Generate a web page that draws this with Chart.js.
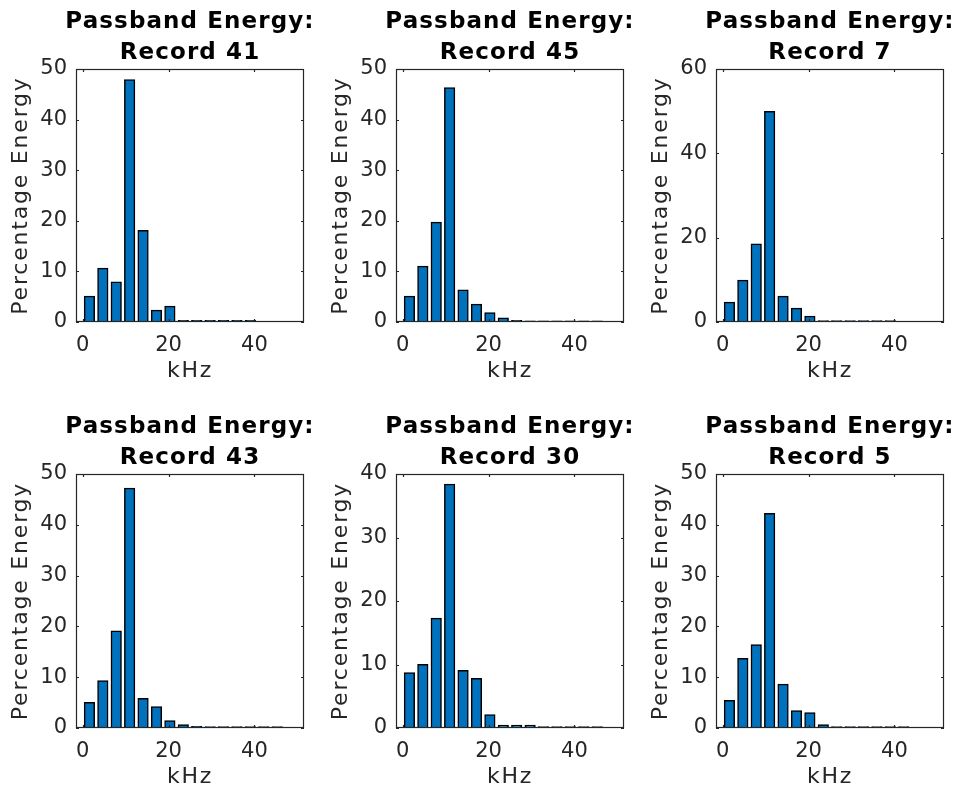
<!DOCTYPE html>
<html>
<head>
<meta charset="utf-8">
<script src="https://cdn.jsdelivr.net/npm/chart.js@4.4.0/dist/chart.umd.min.js"></script>
<style>
  html, body { margin: 0; padding: 0; background: #fff; overflow: hidden; width: 956px; height: 792px; }
  .cell { position: absolute; }
  .cell canvas { display: block; }
</style>
</head>
<body>
<div class="cell" style="left:0px;top:0px"><canvas id="c0" width="380" height="396"></canvas></div>
<div class="cell" style="left:320px;top:0px"><canvas id="c1" width="380" height="396"></canvas></div>
<div class="cell" style="left:640px;top:0px"><canvas id="c2" width="380" height="396"></canvas></div>
<div class="cell" style="left:0px;top:405px"><canvas id="c3" width="380" height="397"></canvas></div>
<div class="cell" style="left:320px;top:405px"><canvas id="c4" width="380" height="397"></canvas></div>
<div class="cell" style="left:640px;top:405px"><canvas id="c5" width="380" height="397"></canvas></div>
<script>
// band centres (kHz), 16 bands of 3.125 kHz
const bandCenters = [1.5625, 4.6875, 7.8125, 10.9375, 14.0625, 17.1875, 20.3125, 23.4375,
                     26.5625, 29.6875, 32.8125, 35.9375, 39.0625, 42.1875, 45.3125, 48.4375];
const xTickValues = [0, 20, 40];

const recordNames = ["Record 41", "Record 45", "Record 7", "Record 43", "Record 30", "Record 5"];

// percentage energy per band
const record41 = [5.1, 10.6, 7.9, 47.9, 18.1, 2.3, 3.1, 0.3, 0.3, 0.3, 0.3, 0.3, 0.3, 0, 0, 0];
const record45 = [5.1, 11.0, 19.7, 46.3, 6.3, 3.5, 1.85, 0.8, 0.3, 0.2, 0.2, 0.2, 0.2, 0.2, 0.2, 0];
const record7  = [4.7, 9.9, 18.5, 49.9, 6.1, 3.25, 1.35, 0.3, 0.3, 0.3, 0.3, 0.3, 0.3, 0, 0, 0];
const record43 = [5.0, 9.3, 19.1, 47.2, 5.8, 4.2, 1.45, 0.66, 0.3, 0.25, 0.25, 0.25, 0.25, 0.25, 0.25, 0];
const record30 = [8.7, 10.0, 17.3, 38.4, 9.05, 7.8, 2.1, 0.42, 0.42, 0.42, 0.2, 0.2, 0.2, 0.2, 0.2, 0];
const record5  = [5.4, 13.7, 16.4, 42.2, 8.6, 3.4, 3.0, 0.66, 0.26, 0.25, 0.25, 0.25, 0.25, 0.25, 0, 0];

const yMaxes = [50, 50, 60, 50, 40, 50];
const yTicks50 = [0, 10, 20, 30, 40, 50];
const yTicks60 = [0, 20, 40, 60];
const yTicks40 = [0, 10, 20, 30, 40];
const yTickSets = [yTicks50, yTicks50, yTicks60, yTicks50, yTicks40, yTicks50];

const allRecords = [record41, record45, record7, record43, record30, record5];

const axisColor = "#262626";
const fontFamily = "'DejaVu Sans', sans-serif";

// MATLAB-style box with inward tick marks
const boxTicks = {
  id: "boxTicks",
  afterDatasetsDraw(chart) {
    const { ctx, chartArea: a, scales: { x, y } } = chart;
    const len = 3;
    ctx.save();
    ctx.strokeStyle = axisColor;
    ctx.lineWidth = 1.2;
    ctx.strokeRect(a.left + 0.5, a.top + 0.5, a.width - 1, a.height - 1);
    ctx.beginPath();
    x.ticks.forEach(t => {
      const px = Math.round(x.getPixelForValue(t.value)) + 0.5;
      ctx.moveTo(px, a.bottom); ctx.lineTo(px, a.bottom - len);
      ctx.moveTo(px, a.top); ctx.lineTo(px, a.top + len);
    });
    y.ticks.forEach(t => {
      const py = Math.round(y.getPixelForValue(t.value)) + 0.5;
      ctx.moveTo(a.left, py); ctx.lineTo(a.left + len, py);
      ctx.moveTo(a.right, py); ctx.lineTo(a.right - len, py);
    });
    ctx.stroke();
    ctx.restore();
  }
};

// wider letter spacing on the text, like the MATLAB export
const spacing = {
  id: "spacing",
  afterUpdate(chart) {
    const ctx = chart.ctx;
    const wrap = (obj, name, sp) => {
      if (!obj || obj["_sp_" + name]) return;
      const orig = obj[name];
      obj[name] = function (...args) {
        ctx.letterSpacing = sp;
        orig.apply(this, args);
        ctx.letterSpacing = "0px";
      };
      obj["_sp_" + name] = true;
    };
    wrap(chart.titleBlock, "draw", "1.1px");
    wrap(chart.scales.y, "drawTitle", "1.8px");
    wrap(chart.scales.x, "drawTitle", "1.8px");
  }
};

allRecords.forEach((vals, i) => {
  const ctx = document.getElementById("c" + i).getContext("2d");
  new Chart(ctx, {
    type: "bar",
    data: {
      datasets: [{
        data: bandCenters.map((f, k) => ({ x: f, y: vals[k] })),
        backgroundColor: "#0072BD",
        borderColor: "#000000",
        borderWidth: 1.5,
        borderSkipped: false,
        inflateAmount: 0.5,
        categoryPercentage: 1,
        barPercentage: 0.76
      }]
    },
    options: {
      responsive: false,
      animation: false,
      layout: { padding: 0 },
      plugins: {
        legend: { display: false },
        tooltip: { enabled: false },
        title: {
          display: true,
          text: ["Passband Energy:", recordNames[i]],
          color: "#000",
          font: { family: fontFamily, size: 23, weight: "bold", lineHeight: 31 / 23 },
          padding: { top: 7, bottom: 0 }
        }
      },
      scales: {
        x: {
          type: "linear",
          offset: false,
          min: -1.5625,
          max: 51.5625,
          grid: { display: false, drawTicks: false },
          border: { display: false },
          ticks: { color: axisColor, padding: 11, font: { family: fontFamily, size: 21 } },
          afterBuildTicks: s => { s.ticks = xTickValues.map(v => ({ value: v })); },
          afterFit: s => { s.height = 74; },
          title: {
            display: true, text: "kHz", color: axisColor,
            font: { family: fontFamily, size: 22 },
            padding: { top: 0, bottom: 12 }
          }
        },
        y: {
          min: 0,
          max: yMaxes[i],
          grid: { display: false, drawTicks: false },
          border: { display: false },
          ticks: { color: axisColor, padding: 9, font: { family: fontFamily, size: 21 } },
          afterBuildTicks: s => { s.ticks = yTickSets[i].map(v => ({ value: v })); },
          afterFit: s => { s.width = 76; },
          title: {
            display: true, text: "Percentage Energy", color: axisColor,
            font: { family: fontFamily, size: 22 },
            padding: { top: 8, bottom: 0 }
          }
        },
        // empty right-hand axis: keeps the plot box centred under its title
        yRight: {
          position: "right",
          grid: { display: false, drawTicks: false },
          border: { display: false },
          ticks: { display: false },
          afterFit: s => { s.width = 76; }
        }
      }
    },
    plugins: [boxTicks, spacing]
  });
});
</script>
</body>
</html>
